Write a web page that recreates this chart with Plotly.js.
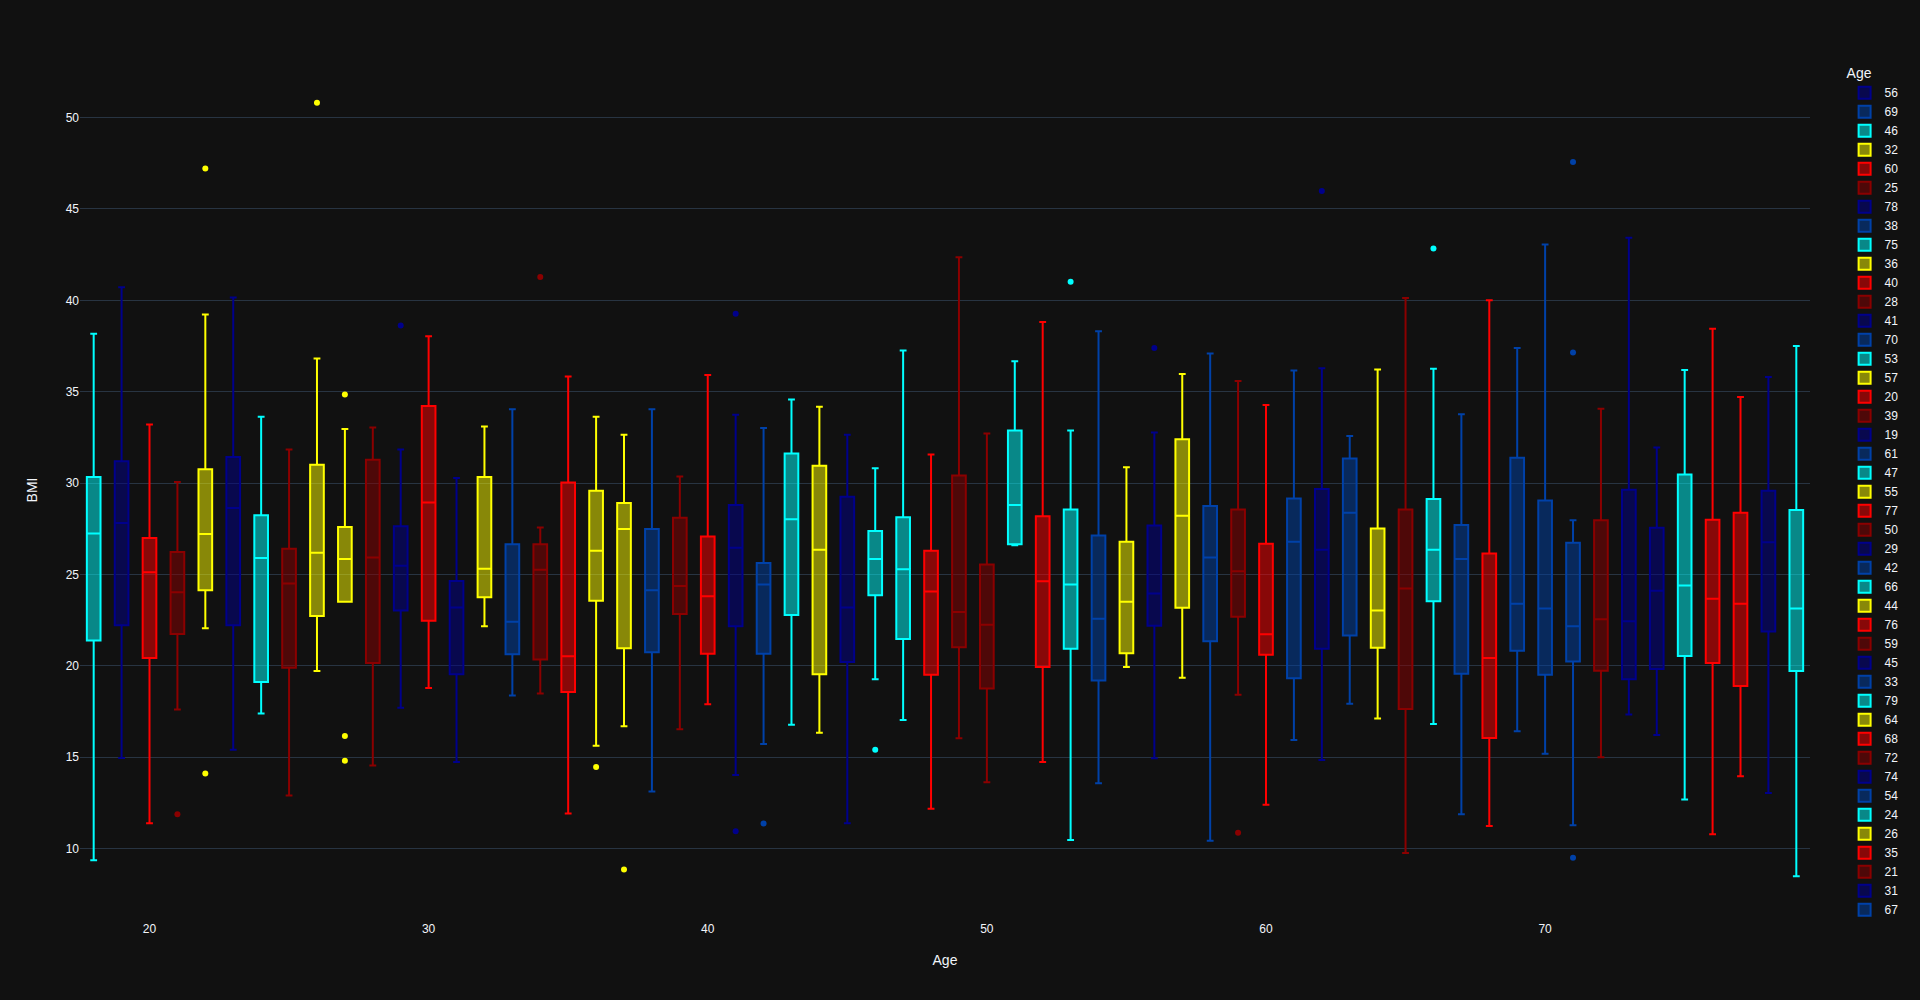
<!DOCTYPE html>
<html>
<head>
<meta charset="utf-8">
<script src="https://cdn.plot.ly/plotly-3.0.1.min.js"></script>
<style>html,body{margin:0;padding:0;background:#111111;}#chart{width:1920px;height:1000px;}</style>
</head>
<body>
<div id="chart"></div>
<script>
// Per-age box statistics (ages 18..79, in age order)
const ages = [18,19,20,21,22,23,24,25,26,27,28,29,30,31,32,33,34,35,36,37,38,39,40,41,42,43,44,45,46,47,48,49,50,51,52,53,54,55,56,57,58,59,60,61,62,63,64,65,66,67,68,69,70,71,72,73,74,75,76,77,78,79];
const lowerFence = [9.36,14.96,11.39,17.61,22.05,15.41,17.39,12.90,19.71,23.50,14.55,17.70,18.79,14.74,22.16,18.37,18.48,11.92,15.63,16.69,13.12,16.53,17.89,14.02,15.72,16.78,16.33,11.39,19.26,17.03,12.18,16.03,13.63,26.60,14.74,10.47,13.57,19.93,14.94,19.34,10.42,18.42,12.40,15.94,14.85,17.92,17.11,9.75,16.81,11.87,11.23,16.42,15.19,11.28,14.99,17.34,16.22,12.68,10.78,13.96,13.04,8.49];
const q1 = [21.38,22.22,20.43,21.74,24.14,22.22,19.12,19.90,22.72,23.50,20.15,23.03,22.47,19.54,23.75,20.63,20.35,18.56,23.56,20.96,20.74,22.83,20.66,22.16,20.66,22.78,19.54,20.21,23.86,21.46,19.51,21.02,18.76,26.65,19.93,20.93,19.20,20.68,22.19,23.17,21.35,22.69,20.60,19.32,20.93,21.66,20.99,17.64,23.53,19.57,16.05,20.82,19.51,20.24,19.73,19.26,19.82,20.54,20.15,18.90,21.88,19.71];
const median = [27.24,27.82,25.12,24.03,27.21,28.63,25.90,24.50,26.18,25.84,25.93,25.48,28.94,23.19,25.31,22.41,25.26,20.52,26.29,27.49,24.14,24.37,23.81,26.46,24.45,28.02,26.35,23.19,25.84,25.29,24.06,22.94,22.25,28.80,24.62,24.45,22.58,23.50,23.95,28.21,25.93,25.17,21.72,26.79,26.35,28.38,23.03,24.23,26.35,25.84,20.43,23.39,23.14,22.16,22.55,22.44,24.11,24.39,23.67,23.39,26.76,23.14];
const q3 = [30.33,31.20,26.99,26.23,30.75,31.42,28.24,26.40,31.00,27.60,31.28,27.63,34.21,24.64,30.33,26.65,26.65,30.03,29.58,28.91,27.49,28.10,27.07,28.80,25.62,31.62,30.95,29.25,27.38,28.13,26.29,30.42,25.54,32.87,28.19,28.55,27.13,26.79,27.68,32.40,28.74,28.55,26.68,29.16,29.67,31.34,27.52,28.55,29.13,27.71,26.15,31.39,29.05,26.74,27.96,29.64,27.55,30.47,27.99,28.38,29.58,28.52];
const upperFence = [38.17,40.71,33.21,30.06,39.23,40.15,33.63,31.84,36.81,32.96,33.04,31.84,38.03,30.28,33.10,34.04,27.57,35.83,33.63,32.65,34.04,30.36,35.91,33.74,33.01,34.57,34.18,32.65,30.81,37.25,31.56,42.36,32.71,36.67,38.81,32.87,38.31,30.86,32.76,35.97,37.09,35.58,34.27,36.16,36.28,32.57,36.22,40.13,36.25,33.77,40.01,37.39,43.05,27.96,34.07,43.42,31.95,36.19,38.45,34.71,35.80,37.50];

// Outlier points
const outlierAge = [21,22,22,26,27,27,27,29,34,36,37,41,41,42,46,53,56,59,62,66,71,71,71];
const outlierBmi = [11.87,47.21,14.10,50.81,34.85,16.16,14.80,38.62,41.27,14.46,8.86,39.26,10.95,11.37,15.41,41.02,37.39,10.86,45.98,42.83,47.57,37.14,9.50];

// Trace (legend) order
const legendOrder = [56,69,46,32,60,25,78,38,75,36,40,28,41,70,53,57,20,39,19,61,47,55,77,50,29,42,66,44,76,59,45,33,79,64,68,72,74,54,24,26,35,21,31,67,18,22,30,34,23,58,43,27,48,49,62,63,51,37,52,65,73,71];

const palette = ['#00008B','#0041A8','#00FFFF','#FFFF00','#FF0000','#8B0000'];

const traces = [];
const colorOf = {};
legendOrder.forEach((age, k) => {
  const i = ages.indexOf(age);
  const c = palette[k % palette.length];
  colorOf[age] = c;
  traces.push({
    type: 'box',
    name: String(age),
    legendgroup: String(age),
    x: [age],
    q1: [q1[i]], median: [median[i]], q3: [q3[i]],
    lowerfence: [lowerFence[i]], upperfence: [upperFence[i]],
    boxpoints: false,
    marker: {color: c},
    line: {color: c, width: 2},
    hoverinfo: 'skip'
  });
});
legendOrder.forEach(age => {
  const xs = [], ys = [];
  outlierAge.forEach((a, j) => { if (a === age) { xs.push(a); ys.push(outlierBmi[j]); } });
  if (xs.length) {
    traces.push({
      type: 'scatter', mode: 'markers', x: xs, y: ys,
      legendgroup: String(age), showlegend: false, name: String(age),
      marker: {color: colorOf[age], size: 6}, hoverinfo: 'skip'
    });
  }
});

const axisCommon = {
  gridcolor: '#283442', showline: false, zerolinecolor: '#283442',
  zerolinewidth: 2, ticks: '', automargin: true,
  tickfont: {color: '#f2f5fa'}
};

const layout = {
  width: 1920, height: 1000,
  paper_bgcolor: 'rgb(17,17,17)', plot_bgcolor: 'rgb(17,17,17)',
  font: {family: 'Arial, "Liberation Sans", sans-serif', color: '#f2f5fa', size: 12},
  margin: {l: 80, r: 110, t: 60, b: 80},
  boxmode: 'overlay',
  showlegend: true,
  legend: {title: {text: 'Age'}, tracegroupgap: 0},
  xaxis: Object.assign({}, axisCommon, {title: {text: 'Age', standoff: 20}, showgrid: false, zeroline: false, range: [17.51, 79.49]}),
  yaxis: Object.assign({}, axisCommon, {title: {text: 'BMI', standoff: 24}, showgrid: true, zeroline: false, range: [6.09, 53.15]})
};

Plotly.newPlot('chart', traces, layout, {displayModeBar: false, staticPlot: true});
</script>
</body>
</html>
